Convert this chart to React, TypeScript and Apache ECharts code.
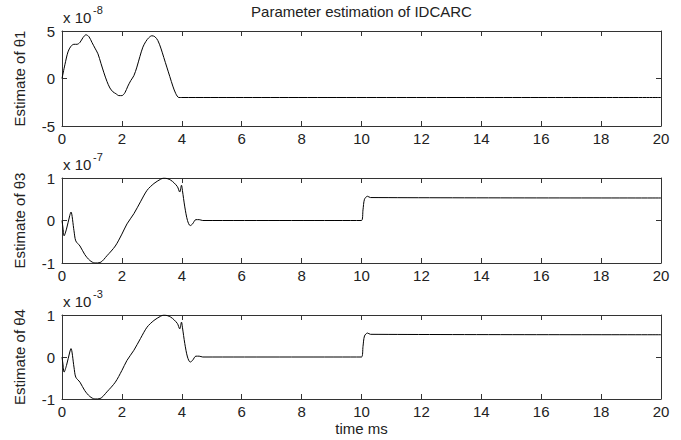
import React, { useEffect, useRef } from "react";
import * as echarts from "echarts";

const titleText = "Parameter estimation of IDCARC";
const xName = "time ms";
const yNames = ["Estimate of θ1", "Estimate of θ3", "Estimate of θ4"];
const exponents = ["-8", "-7", "-3"];
const yMins = [-5, -1, -1];
const yMaxs = [5, 1, 1];
const yIntervals = [5, 1, 1];
const xTicks = [0, 2, 4, 6, 8, 10, 12, 14, 16, 18, 20];

// θ1 estimate (×1e-8)
const t1 = [0, 0.1, 0.2, 0.3, 0.4, 0.5, 0.6, 0.7, 0.8, 0.9, 1.0, 1.1, 1.2, 1.3, 1.4, 1.5, 1.6, 1.7, 1.8, 1.9, 2.0, 2.1, 2.2, 2.3, 2.4, 2.5, 2.6, 2.7, 2.8, 2.9, 3.0, 3.1, 3.2, 3.3, 3.4, 3.5, 3.6, 3.7, 3.8, 3.9, 4.0, 20];
const v1 = [0, 1.5, 2.8, 3.4, 3.6, 3.6, 3.8, 4.3, 4.6, 4.4, 3.8, 3.2, 2.6, 1.6, 0.6, -0.3, -1.0, -1.4, -1.6, -1.8, -1.8, -1.5, -0.8, -0.2, 0.3, 1.2, 2.3, 3.3, 3.9, 4.3, 4.5, 4.4, 4.0, 3.2, 2.2, 1.2, 0.2, -0.8, -1.6, -2.0, -2.0, -2.0];

// θ3 estimate (×1e-7)
const t3 = [0, 0.03, 0.07, 0.15, 0.26, 0.3, 0.4, 0.46, 0.6, 0.76, 0.93, 1.1, 1.27, 1.5, 1.78, 2.0, 2.17, 2.4, 2.62, 2.84, 3.07, 3.29, 3.4, 3.63, 3.85, 3.93, 3.99, 4.02, 4.1, 4.19, 4.28, 4.36, 4.47, 4.58, 4.7, 10.0, 10.05, 10.1, 10.2, 10.3, 20];
const v3 = [0, -0.16, -0.36, -0.2, 0.12, 0.2, -0.24, -0.48, -0.6, -0.8, -0.94, -1.0, -0.99, -0.83, -0.6, -0.32, -0.08, 0.16, 0.44, 0.71, 0.87, 0.97, 1.0, 0.95, 0.8, 0.67, 0.83, 0.71, 0.32, 0.0, -0.12, -0.08, 0.02, 0.02, 0.0, 0.0, 0.25, 0.5, 0.57, 0.54, 0.53];

// θ4 estimate (×1e-3)
const t4 = t3;
const v4 = [0, -0.16, -0.36, -0.2, 0.12, 0.2, -0.24, -0.48, -0.6, -0.8, -0.94, -1.0, -0.99, -0.83, -0.6, -0.32, -0.08, 0.16, 0.44, 0.71, 0.87, 0.97, 1.0, 0.95, 0.8, 0.67, 0.83, 0.71, 0.32, 0.0, -0.12, -0.08, 0.02, 0.02, 0.0, 0.0, 0.25, 0.5, 0.57, 0.54, 0.53];

const FONT = "Liberation Sans, Arial, sans-serif";
const TXT = "#222";
const AX = "#333";
const FS = 15;

export default function App() {
  const ref = useRef<HTMLDivElement>(null);
  useEffect(() => {
    if (!ref.current) return;
    const chart = echarts.init(ref.current, undefined, { renderer: "svg" });
    const tops = [31, 178, 315];
    const heights = [95, 85, 84];
    const left = 62;
    const right = 20;
    const W = 681;
    const plotW = W - left - right;
    const cx = left + plotW / 2;
    const grids = tops.map((top, i) => ({ left, right, top, height: heights[i], show: false }));
    const xAxes: any[] = [];
    const yAxes: any[] = [];
    const seriesData = [
      [t1, v1],
      [t3, v3],
      [t4, v4],
    ];
    tops.forEach((_, i) => {
      ["bottom", "top"].forEach((pos) => {
        xAxes.push({
          type: "value",
          gridIndex: i,
          position: pos,
          min: xTicks[0],
          max: xTicks[xTicks.length - 1],
          interval: xTicks[1] - xTicks[0],
          axisLine: { show: true, onZero: false, lineStyle: { color: AX, width: 1 } },
          axisTick: { show: true, inside: true, length: 5, lineStyle: { color: AX } },
          axisLabel: {
            show: pos === "bottom",
            color: TXT,
            fontFamily: FONT,
            fontSize: FS,
            margin: 5,
          },
          splitLine: { show: false },
        });
      });
      ["left", "right"].forEach((pos) => {
        yAxes.push({
          type: "value",
          gridIndex: i,
          position: pos,
          min: yMins[i],
          max: yMaxs[i],
          interval: yIntervals[i],
          axisLine: { show: true, onZero: false, lineStyle: { color: AX, width: 1 } },
          axisTick: { show: true, inside: true, length: 5, lineStyle: { color: AX } },
          axisLabel: {
            show: pos === "left",
            color: TXT,
            fontFamily: FONT,
            fontSize: FS,
            margin: 7,
          },
          splitLine: { show: false },
        });
      });
    });
    const series = seriesData.map(([ts, vs], i) => ({
      type: "line",
      xAxisIndex: i * 2,
      yAxisIndex: i * 2,
      data: (ts as number[]).map((t, k) => [t, (vs as number[])[k]]),
      showSymbol: false,
      smooth: 0.3,
      lineStyle: { color: "#000", width: 1 },
    }));
    const graphics: any[] = [
      {
        type: "text",
        x: cx,
        y: 4,
        style: { text: titleText, fill: TXT, font: `${FS}px ${FONT}`, textAlign: "center" },
      },
      {
        type: "text",
        x: cx,
        y: 421,
        style: { text: xName, fill: TXT, font: `${FS}px ${FONT}`, textAlign: "center" },
      },
    ];
    tops.forEach((top, i) => {
      graphics.push({
        type: "text",
        x: left + 1,
        y: top - 21,
        style: { text: "x 10", fill: TXT, font: `${FS}px ${FONT}` },
      });
      graphics.push({
        type: "text",
        x: left + 31,
        y: top - 27,
        style: { text: exponents[i], fill: TXT, font: `11px ${FONT}` },
      });
      graphics.push({
        type: "text",
        x: 19,
        y: top + heights[i] / 2,
        rotation: Math.PI / 2,
        style: {
          text: yNames[i],
          fill: TXT,
          font: `${FS}px ${FONT}`,
          textAlign: "center",
          textVerticalAlign: "middle",
        },
      });
    });
    chart.setOption({
      animation: false,
      backgroundColor: "#fff",
      grid: grids,
      xAxis: xAxes,
      yAxis: yAxes,
      series,
      graphic: graphics,
    });
    return () => chart.dispose();
  }, []);
  return (
    <div
      ref={ref}
      style={{ position: "fixed", left: 0, top: 0, width: 681, height: 440 }}
    />
  );
}
